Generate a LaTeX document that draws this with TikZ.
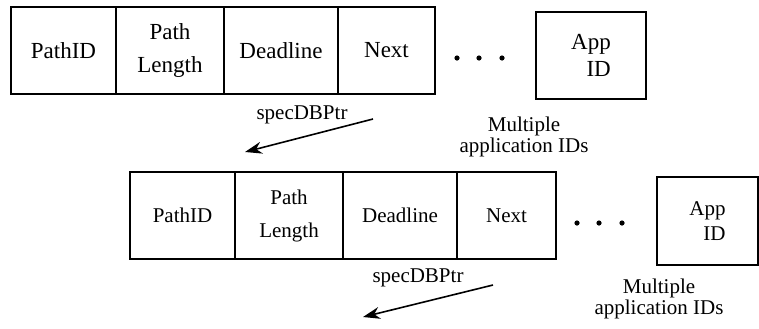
\documentclass[tikz,border=0pt]{standalone}
\usepackage{fontspec}
\setmainfont{Liberation Serif}
\usetikzlibrary{positioning, arrows.meta}

\tikzset{
  cell/.style={draw, line width=0.9pt, inner sep=0pt, outer sep=0pt, align=center},
  toptext/.style={font=\fontsize{11.5}{13.5}\selectfont},
  lowtext/.style={font=\fontsize{10.5}{12.5}\selectfont},
  note/.style={font=\fontsize{10.5}{10.5}\selectfont, align=center},
  ptr/.style={-{Stealth[length=8.5pt, width=6pt]}, line width=0.8pt},
  dot/.style={fill, circle, inner sep=0pt, minimum size=2.6pt}
}

\begin{document}
\begin{tikzpicture}[x=0.5pt, y=-0.5pt, node distance=0pt]
    \useasboundingbox (0,0) rectangle (759,328);
    % First record
    \node[cell, toptext, minimum width=52.5pt, minimum height=43.5pt, anchor=north west] (pid1) at (11,7) {PathID};
    \node[cell, toptext, minimum width=54pt, minimum height=43.5pt] (len1) [right=of pid1] {Path\\[3pt] Length};
    \node[cell, toptext, minimum width=57pt, minimum height=43.5pt] (dl1) [right=of len1] {Deadline};
    \node[cell, toptext, minimum width=48.5pt, minimum height=43.5pt] (nxt1) [right=of dl1] {Next};
    \node[cell, toptext, align=right, minimum width=55pt, minimum height=43.5pt, anchor=north west] (app1) at (536,12) {App\\ ID};
    \node[dot] (d11) at (457,58) {};
    \node[dot] (d12) at (479,58) {};
    \node[dot] (d13) at (502,58) {};
    \node[note] (ptrlab1) at (302,115) {specDBPtr};
    \node[note] (multi1) at (524,137) {Multiple\\ application IDs};
    \coordinate (from1) at (373,119);
    \coordinate (to1) at (245,152);
    \draw[ptr] (from1) -- (to1);

    % Second record
    \node[cell, lowtext, minimum width=52.5pt, minimum height=43.5pt, anchor=north west] (pid2) at (130,172) {PathID};
    \node[cell, lowtext, minimum width=54pt, minimum height=43.5pt] (len2) [right=of pid2] {Path\\[4pt] Length};
    \node[cell, lowtext, minimum width=57pt, minimum height=43.5pt] (dl2) [right=of len2] {Deadline};
    \node[cell, lowtext, minimum width=49.5pt, minimum height=43.5pt] (nxt2) [right=of dl2] {Next};
    \node[cell, lowtext, align=right, minimum width=50.5pt, minimum height=44pt, anchor=north west] (app2) at (657,177) {App\\ ID};
    \node[dot] (d21) at (577,223) {};
    \node[dot] (d22) at (599,223) {};
    \node[dot] (d23) at (622,223) {};
    \node[note] (ptrlab2) at (418,278) {specDBPtr};
    \node[note] (multi2) at (659,299) {Multiple\\ application IDs};
    \coordinate (from2) at (493,285);
    \coordinate (to2) at (363,317);
    \draw[ptr] (from2) -- (to2);
\end{tikzpicture}
\end{document}
